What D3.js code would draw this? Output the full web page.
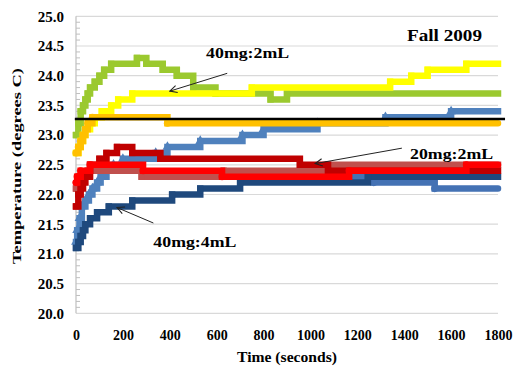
<!DOCTYPE html>
<html><head><meta charset="utf-8">
<script src="https://cdn.jsdelivr.net/npm/d3@7"></script>
<style>
html,body{margin:0;padding:0;background:#fff;}
svg text{font-family:"Liberation Serif","Times New Roman",serif;font-weight:bold;fill:#000;}
</style></head>
<body><svg id="chart" width="517" height="369"></svg>
<script>
// ---- data (time in seconds, temperature in °C at change points) ----
const xTicks = [0,200,400,600,800,1000,1200,1400,1600,1800];
const yTicks = [20.0,20.5,21.0,21.5,22.0,22.5,23.0,23.5,24.0,24.5,25.0];

const blue2T = [700,1270,1530,1800];
const blue2V = [22.3,22.2,22.1,22.1];

const lightBlueT = [0,5,15,25,40,55,70,90,105,130,160,200,340,390,530,710,800,1030,1320,1600,1800];
const lightBlueV = [21.2,21.4,21.6,21.8,21.9,22.0,22.1,22.2,22.3,22.4,22.5,22.6,22.7,22.8,22.9,23.0,23.1,23.2,23.3,23.4,23.4];

const navyT = [0,10,20,30,40,60,90,140,240,410,530,700,1245,1800];
const navyV = [21.1,21.2,21.3,21.4,21.5,21.6,21.7,21.8,21.9,22.0,22.1,22.2,22.3,22.3];

const greenT = [0,10,20,30,40,50,60,80,100,120,150,260,300,370,430,500,595,830,900,1800];
const greenV = [23.0,23.2,23.4,23.5,23.6,23.7,23.8,23.9,24.0,24.1,24.2,24.3,24.2,24.1,24.0,23.8,23.7,23.6,23.7,23.7];

const yellowT = [0,10,20,30,40,60,80,110,150,180,240,750,1340,1430,1500,1665,1800];
const yellowV = [22.7,22.8,22.9,23.0,23.1,23.2,23.3,23.4,23.5,23.6,23.7,23.8,23.9,24.0,24.1,24.2,24.2];

const orangeT = [0,10,20,30,40,50,70,390,1800];
const orangeV = [22.7,22.8,22.9,23.0,23.1,23.2,23.3,23.2,23.2];

const rosyT = [0,20,50,280,630,1075,1800];
const rosyV = [22.1,22.3,22.4,22.3,22.4,22.5,22.5];

const darkRedT = [0,10,20,30,40,60,100,130,175,240,360,955,1075,1800];
const darkRedV = [21.8,22.0,22.1,22.2,22.3,22.5,22.6,22.7,22.8,22.7,22.6,22.5,22.4,22.4];

const redT = [0,5,20,60,286,623,1165,1665,1800];
const redV = [22.2,22.3,22.4,22.5,22.4,22.3,22.4,22.5,22.5];

const blackT = [-5,1830];
const blackV = [23.27,23.27];

const seriesList = [
  {t: blue2T,     v: blue2V,     color: "#4472B4", shape: "circle"},
  {t: lightBlueT, v: lightBlueV, color: "#4F81BD", shape: "triangle"},
  {t: navyT,      v: navyV,      color: "#1F497D", shape: "square"},
  {t: greenT,     v: greenV,     color: "#9BC92F", shape: "square"},
  {t: yellowT,    v: yellowV,    color: "#FFFF00", shape: "square"},
  {t: orangeT,    v: orangeV,    color: "#FFC000", shape: "circle"},
  {t: rosyT,      v: rosyV,      color: "#C0504D", shape: "square"},
  {t: darkRedT,   v: darkRedV,   color: "#C00000", shape: "square"},
  {t: redT,       v: redV,       color: "#FF0000", shape: "circle"}
];

const annotations = [
  {text: "40mg:2mL", t: 555, v: 24.3, tipT: 400, tipV: 23.74, fromT: 645, fromV: 24.04},
  {text: "20mg:2mL", t: 1425, v: 22.6, tipT: 1020, tipV: 22.52, fromT: 1390, fromV: 22.78},
  {text: "40mg:4mL", t: 330, v: 21.12, tipT: 175, tipV: 21.78, fromT: 330, fromV: 21.52}
];

// ---- chart ----
const svg = d3.select("#chart");
const x = d3.scaleLinear().domain([0,1800]).range([76,498]);
const y = d3.scaleLinear().domain([20,25]).range([313.3,16.3]);

// gridlines
svg.append("g").selectAll("line").data(yTicks).join("line")
  .attr("x1", x(0)).attr("x2", x(1800))
  .attr("y1", d=>y(d)).attr("y2", d=>y(d))
  .attr("stroke", "#d9d9d9").attr("stroke-width", 1.2);

// minor ticks on y axis
const minor = d3.range(200, 250).map(d=>d/10).filter(d=>Math.abs(d*2-Math.round(d*2))>1e-6);
svg.append("g").selectAll("line").data(minor).join("line")
  .attr("x1", x(0)).attr("x2", x(0)+4)
  .attr("y1", d=>y(d)).attr("y2", d=>y(d))
  .attr("stroke", "#bfbfbf").attr("stroke-width", 1);

// y axis line
svg.append("line").attr("x1", x(0)).attr("x2", x(0)).attr("y1", y(25)).attr("y2", y(20))
  .attr("stroke", "#bfbfbf").attr("stroke-width", 1.2);

// axes labels via d3 axes
const yAxis = svg.append("g").attr("transform", `translate(${x(0)},0)`)
  .call(d3.axisLeft(y).tickValues(yTicks).tickFormat(d3.format(".1f")).tickSize(0).tickPadding(12));
yAxis.select(".domain").remove();
yAxis.selectAll("text").attr("font-size", 15).style("font-family", '"Liberation Serif",serif').style("font-weight","bold");

const xAxis = svg.append("g").attr("transform", `translate(0,${y(20)})`)
  .call(d3.axisBottom(x).tickValues(xTicks).tickFormat(d3.format("d")).tickSize(0).tickPadding(17));
xAxis.select(".domain").remove();
xAxis.selectAll("text").attr("font-size", 14).style("font-family", '"Liberation Serif",serif').style("font-weight","bold");

// series
const line = d3.line().x(d=>x(d[0])).y(d=>y(d[1])).curve(d3.curveStepAfter);
const symbolType = {circle: d3.symbolCircle, square: d3.symbolSquare, triangle: d3.symbolTriangle};
seriesList.forEach(s => {
  const pts = s.t.map((t,i)=>[t, s.v[i]]);
  svg.append("path").datum(pts)
    .attr("d", line).attr("fill", "none")
    .attr("stroke", s.color).attr("stroke-width", 6.5)
    .attr("stroke-linejoin", "miter")
    .attr("stroke-linecap", s.shape === "circle" ? "round" : "square");
  svg.append("g").selectAll("path").data(pts.slice(0, -1)).join("path")
    .attr("transform", d=>`translate(${x(d[0])},${y(d[1])})`)
    .attr("d", d3.symbol().type(symbolType[s.shape]).size(s.shape==="triangle"?42:40))
    .attr("fill", s.color);
});

// black reference line
svg.append("path").datum(blackT.map((t,i)=>[t, blackV[i]]))
  .attr("d", d3.line().x(d=>x(d[0])).y(d=>y(d[1])))
  .attr("stroke", "#000").attr("stroke-width", 2.5).attr("fill", "none");

// annotations
const defs = svg.append("defs");
defs.append("marker").attr("id","arr").attr("viewBox","0 0 10 10").attr("refX",9).attr("refY",5)
  .attr("markerWidth",9).attr("markerHeight",9).attr("orient","auto-start-reverse")
  .attr("markerUnits","userSpaceOnUse")
  .append("path").attr("d","M1,1 L9,5 L1,9").attr("fill","none").attr("stroke","#222").attr("stroke-width",1.2);

annotations.forEach(a => {
  svg.append("line")
    .attr("x1", x(a.fromT)).attr("y1", y(a.fromV))
    .attr("x2", x(a.tipT)).attr("y2", y(a.tipV))
    .attr("stroke", "#222").attr("stroke-width", 1)
    .attr("marker-end", "url(#arr)");
  svg.append("text").attr("x", x(a.t)).attr("y", y(a.v))
    .attr("font-size", 15).attr("textLength", 83).attr("lengthAdjust","spacingAndGlyphs")
    .text(a.text);
});

// title
svg.append("text").attr("x", 407).attr("y", 41).attr("font-size", 16)
  .attr("textLength", 75).attr("lengthAdjust","spacingAndGlyphs").text("Fall 2009");

// axis titles
svg.append("text").attr("x", 287).attr("y", 362).attr("text-anchor","middle").attr("font-size", 14)
  .attr("textLength", 100).attr("lengthAdjust","spacingAndGlyphs").text("Time (seconds)");
svg.append("text").attr("transform", "translate(21,166) rotate(-90)").attr("text-anchor","middle")
  .attr("font-size", 13).attr("textLength", 196).attr("lengthAdjust","spacingAndGlyphs")
  .text("Temperature (degrees C)");
</script></body></html>
